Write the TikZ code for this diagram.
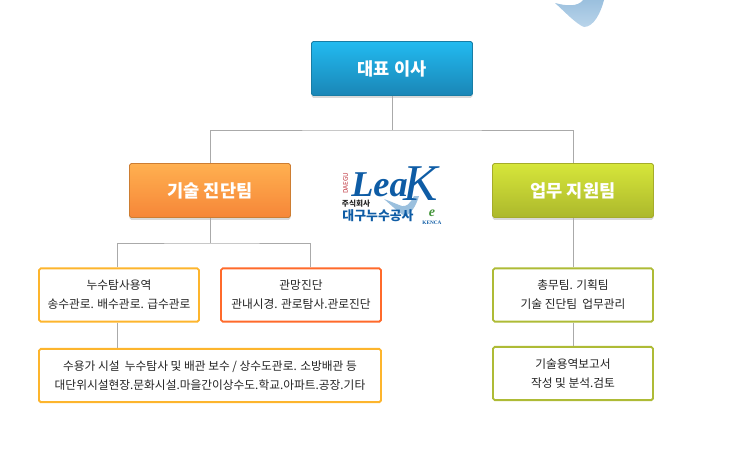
\documentclass[tikz,border=0pt]{standalone}
\usepackage{fontspec}
\usepackage{xcolor}
\usetikzlibrary{shadows}
\setmainfont{Noto Sans CJK KR}
\newfontfamily\logofont{Liberation Serif}
\definecolor{linegray}{RGB}{170,170,170}
\definecolor{textdark}{RGB}{35,35,35}
\definecolor{ceotop}{RGB}{34,186,240}
\definecolor{ceobot}{RGB}{26,134,182}
\definecolor{ceoedge}{RGB}{24,125,165}
\definecolor{techtop}{RGB}{255,176,80}
\definecolor{techbot}{RGB}{246,134,56}
\definecolor{techedge}{RGB}{205,125,50}
\definecolor{suptop}{RGB}{214,230,58}
\definecolor{supbot}{RGB}{172,184,44}
\definecolor{supedge}{RGB}{165,172,42}
\definecolor{yellowedge}{RGB}{253,181,45}
\definecolor{rededge}{RGB}{255,106,43}
\definecolor{oliveedge}{RGB}{174,187,54}
\definecolor{logoblue}{RGB}{14,92,165}
\definecolor{logored}{RGB}{190,50,60}
\definecolor{logogreen}{RGB}{70,150,60}
\definecolor{swooshtop}{RGB}{155,192,222}
\definecolor{swooshbot}{RGB}{185,212,234}
\tikzset{
    headbox/.style={rectangle, rounded corners=1.5pt, draw, line width=0.8pt, text=white,
        minimum width=4.83cm, minimum height=1.62cm, inner sep=0pt,
        font=\fontsize{15}{16}\selectfont\bfseries,
        drop shadow={opacity=0.3, shadow xshift=0pt, shadow yshift=-2pt}},
    subbox/.style={rectangle, rounded corners=1.5pt, draw, line width=1.6pt, fill=white,
        text=textdark, align=center, inner sep=0pt,
        minimum width=4.8cm, minimum height=1.6cm,
        font=\fontsize{10}{16.2}\selectfont},
    link/.style={draw=linegray, line width=0.85pt}
}
\begin{document}
\begin{tikzpicture}[x=0.03cm, y=-0.03cm]
    \useasboundingbox (0,0) rectangle (740,472);

    % Swoosh at the top
    \shade[top color=swooshtop, bottom color=swooshbot] (555,3) .. controls (566,6) and (578,7) .. (583,0) -- (604,0)
        .. controls (601,12) and (594,27) .. (584,27) .. controls (576,24) and (564,11) .. cycle;

    % Head boxes
    \node[headbox, draw=ceoedge, top color=ceotop, bottom color=ceobot] (ceo) at (392,68.5) {대표 이사};
    \node[headbox, draw=techedge, top color=techtop, bottom color=techbot] (tech) at (210,190.5) {기술 진단팀};
    \node[headbox, draw=supedge, top color=suptop, bottom color=supbot] (sup) at (573,190.5) {업무 지원팀};

    % Left branch
    \node[subbox, draw=yellowedge] (survey) at (119,295) {누수탐사용역\\송수관로. 배수관로. 급수관로};
    \node[subbox, draw=rededge] (pipe) at (301,295) {관망진단\\관내시경. 관로탐사.관로진단};
    \node[subbox, draw=yellowedge, minimum width=10.26cm] (users) at (210,375.5)
        {수용가 시설~~누수탐사 및 배관 보수 / 상수도관로. 소방배관 등\\대단위시설현장.문화시설.마을간이상수도.학교.아파트.공장.기타};

    % Right branch
    \node[subbox, draw=oliveedge] (admin) at (573,295) {총무팀. 기획팀\\기술 진단팀~~업무관리};
    \node[subbox, draw=oliveedge] (report) at (573,373.5) {기술용역보고서\\작성 및 분석.검토};

    % Connections
    \coordinate (ceobus) at (392,130);
    \coordinate (techbus) at (210,243);
    \coordinate (techleft) at (117.5,243);
    \coordinate (techright) at (310,243);
    \draw[link] (ceo.south) -- (ceobus);
    \draw[link] (tech.north) |- (ceobus) -| (sup.north);
    \draw[link] (tech.south) -- (techbus);
    \draw[link] (techleft |- survey.north) |- (techbus) -| (techright |- pipe.north);
    \draw[link] (techleft |- survey.south) -- (techleft |- users.north);
    \draw[link] (sup.south) -- (admin.north);
    \draw[link] (admin.south) -- (report.north);

    % Logo
    \fill[swooshtop] (384,199) .. controls (392,206) and (398,212) .. (405,216)
        .. controls (411,214) and (416,206) .. (419,196) -- (414,196)
        .. controls (410,204) and (406,207) .. (402,206) .. controls (396,204) and (390,201) .. cycle;
    \node[text=logoblue, font=\logofont\fontsize{31}{31}\selectfont\bfseries\itshape, inner sep=0pt] (lea) at (379.5,185) {Lea};
    \node[text=logoblue, font=\logofont\fontsize{44}{44}\selectfont\itshape, inner sep=0pt] (kay) at (421,184) {K};
    \node[text=logored, font=\fontsize{5.5}{6}\selectfont, rotate=90, inner sep=0pt] (daegu) at (345.5,183) {DAEGU};
    \node[text=textdark, font=\fontsize{6.5}{7}\selectfont\bfseries, inner sep=0pt] (corp) at (356,203.5) {주식회사};
    \node[text=logoblue, font=\fontsize{11}{12}\selectfont\bfseries, inner sep=0pt] (name) at (378,216) {대구누수공사};
    \node[text=logogreen, font=\logofont\fontsize{12}{12}\selectfont\bfseries\itshape, inner sep=0pt] (kmark) at (432,213) {e};
    \node[text=logoblue, font=\logofont\fontsize{4.5}{5}\selectfont\bfseries, inner sep=0pt] (kenca) at (432,222.5) {KENCA};
\end{tikzpicture}
\end{document}
